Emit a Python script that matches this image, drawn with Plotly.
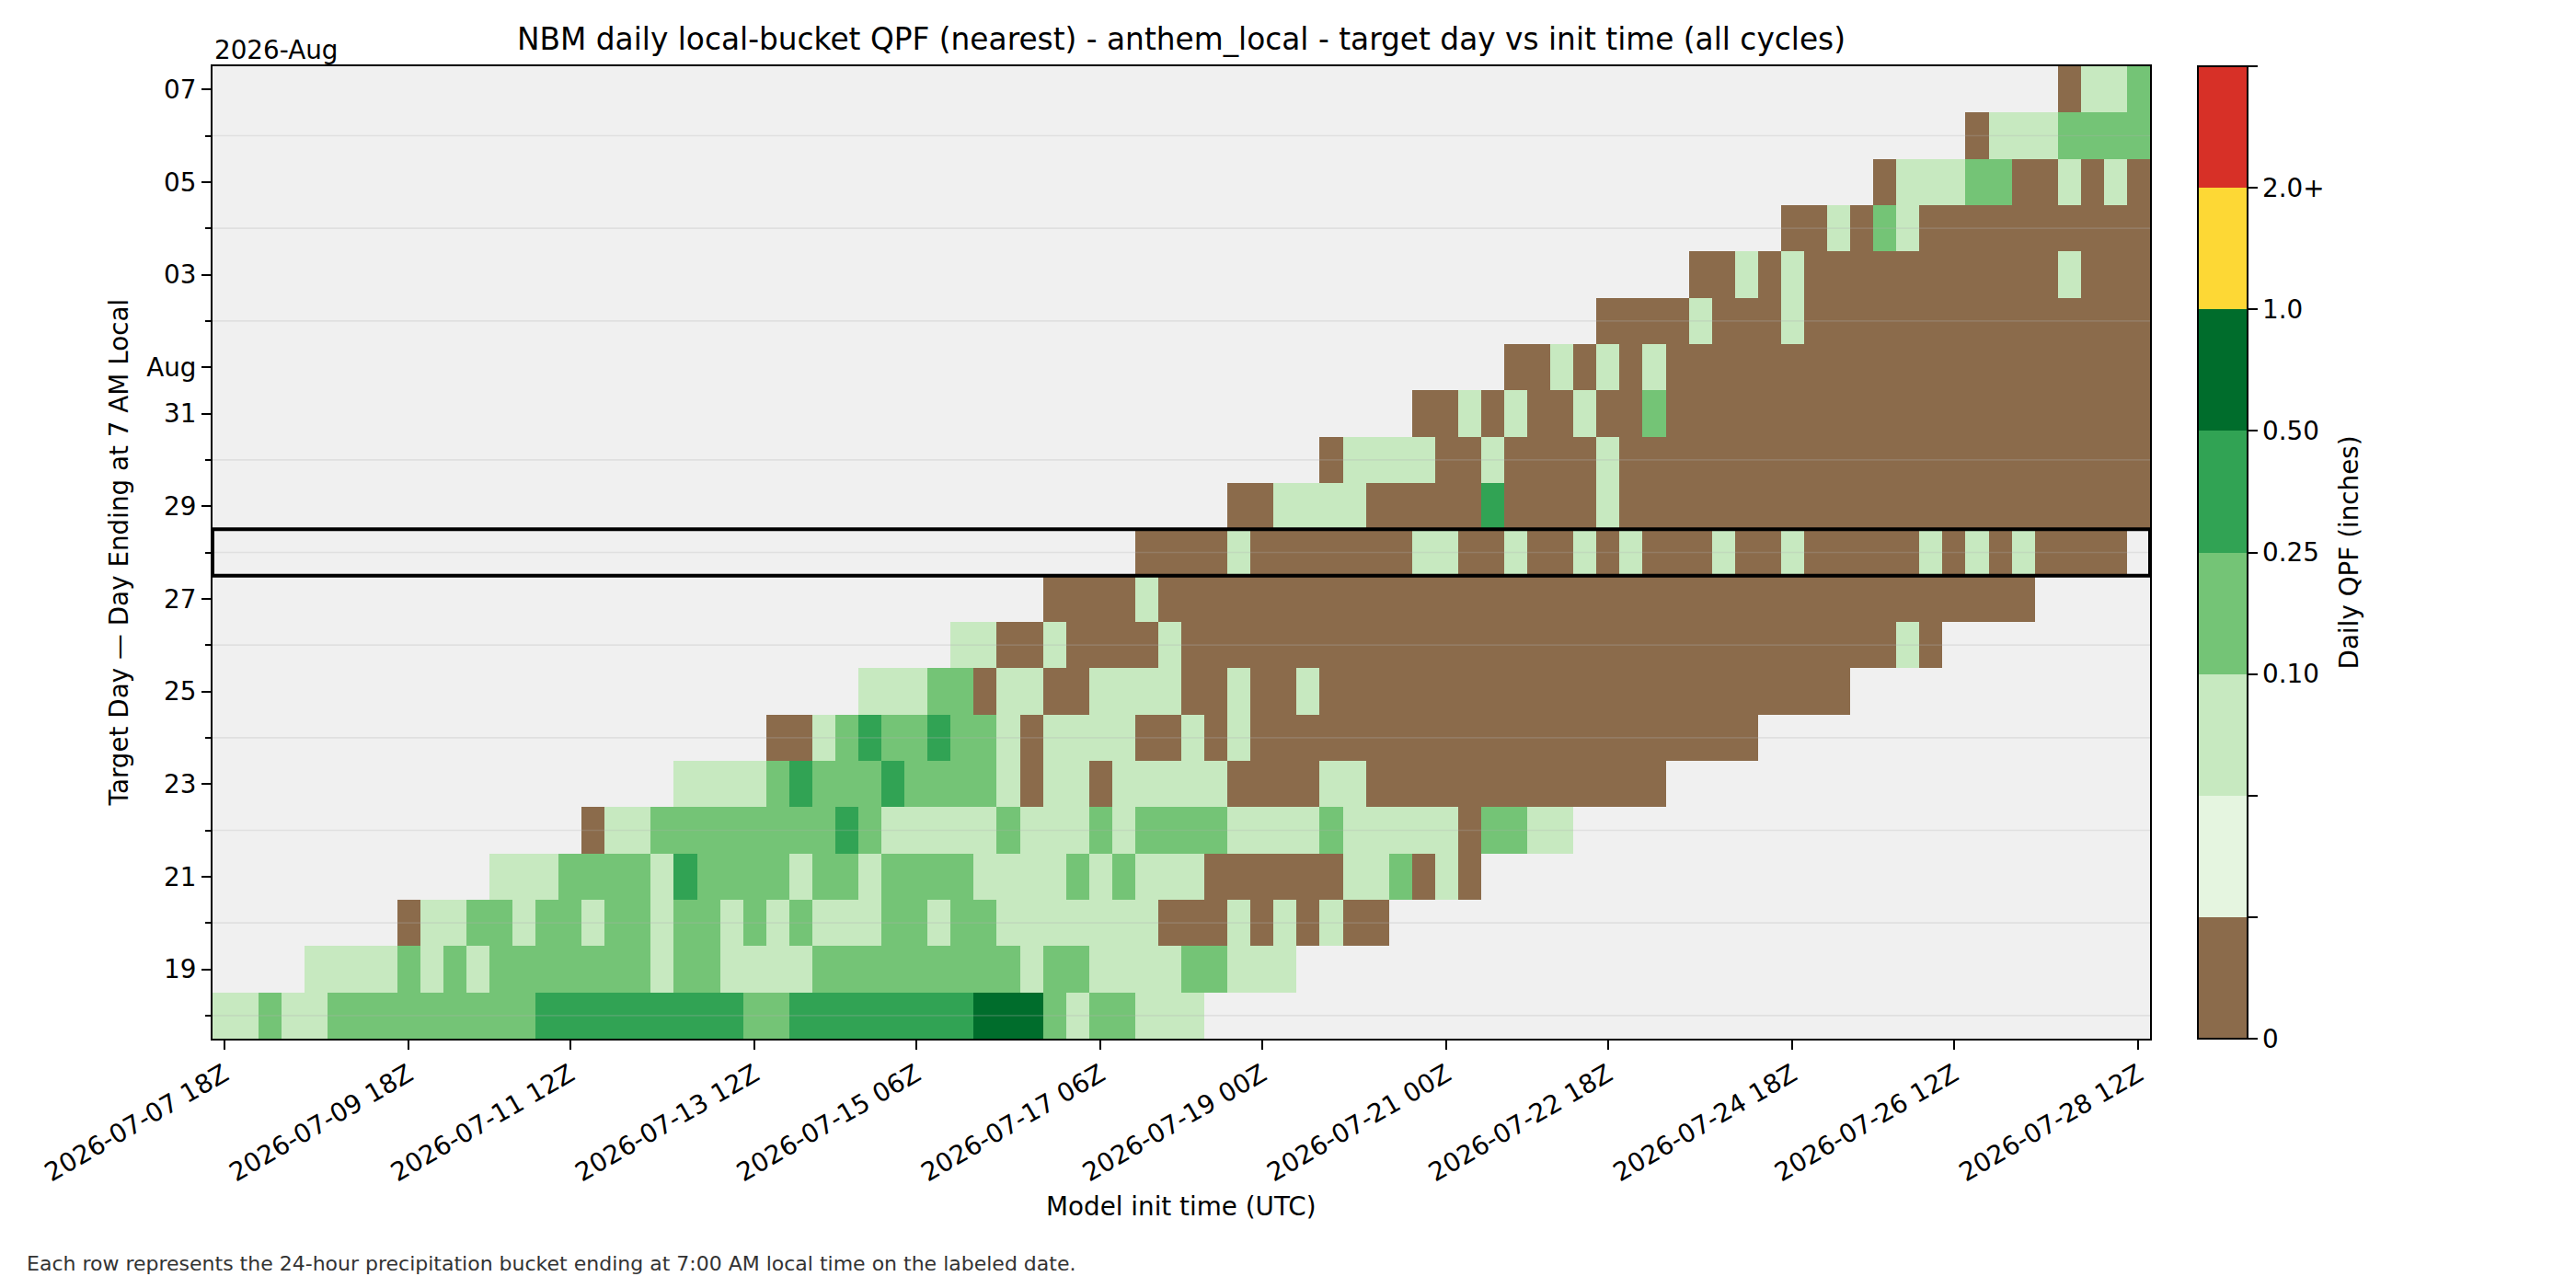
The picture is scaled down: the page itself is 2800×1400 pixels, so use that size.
import pandas as pd
import plotly.graph_objects as go

# ---------------- data ----------------
# Target days (rows, bottom -> top)
target_days = [
    "2026-07-18", "2026-07-19", "2026-07-20", "2026-07-21", "2026-07-22",
    "2026-07-23", "2026-07-24", "2026-07-25", "2026-07-26", "2026-07-27",
    "2026-07-28", "2026-07-29", "2026-07-30", "2026-07-31", "2026-08-01",
    "2026-08-02", "2026-08-03", "2026-08-04", "2026-08-05", "2026-08-06",
    "2026-08-07",
]

# Model init times (columns), every 6 h
init_times = pd.date_range("2026-07-07 18:00", "2026-07-28 12:00", freq="6h")
init_labels = [t.strftime("%Y-%m-%d %HZ") for t in init_times]

x_tick_labels = [
    "2026-07-07 18Z", "2026-07-09 18Z", "2026-07-11 12Z", "2026-07-13 12Z",
    "2026-07-15 06Z", "2026-07-17 06Z", "2026-07-19 00Z", "2026-07-21 00Z",
    "2026-07-22 18Z", "2026-07-24 18Z", "2026-07-26 12Z", "2026-07-28 12Z",
]

y_major_days = ["2026-07-19", "2026-07-21", "2026-07-23", "2026-07-25", "2026-07-27",
                "2026-07-29", "2026-07-31", "2026-08-01", "2026-08-03", "2026-08-05",
                "2026-08-07"]
y_major_text = ["19", "21", "23", "25", "27", "29", "31", "Aug", "03", "05", "07"]

highlight_day = "2026-07-28"

# QPF bin codes: '.' no forecast, '0' = 0, 't' trace, 'p' <0.10, 'l' 0.10-0.25,
# 'm' 0.25-0.50, 'd' 0.50-1.0, 'y' 1.0-2.0, 'r' 2.0+
bin_codes = ["0", "t", "p", "l", "m", "d", "y", "r"]
bin_colors = ["#8b6b4b", "#e5f5e0", "#c7e9c0", "#74c476", "#31a354", "#006d2c",
              "#fdd835", "#d73027"]
bin_edge_labels = ["0", "", "", "0.10", "0.25", "0.50", "1.0", "2.0+", ""]

# one string per target day (bottom row first), one char per init time
qpf_rows = [
    # 07-18
    "pp" + "l" + "pp" + "l" * 9 + "m" * 9 + "ll" + "m" * 8 + "ddd" + "l" + "p" + "ll" + "ppp" + "." * 41,
    # 07-19
    "." * 4 + "pppp" + "l" + "p" + "l" + "p" + "l" * 7 + "p" + "ll" + "pppp" + "l" * 9 + "p" + "ll"
    + "pppp" + "ll" + "ppp" + "." * 37,
    # 07-20
    "." * 8 + "0" + "pp" + "ll" + "p" + "ll" + "p" + "ll" + "p" + "ll" + "p" + "l" + "p" + "l" + "ppp"
    + "ll" + "p" + "ll" + "p" * 7 + "000" + "p" + "0" + "p" + "0" + "p" + "00" + "." * 33,
    # 07-21
    "." * 12 + "ppp" + "llll" + "p" + "m" + "llll" + "p" + "ll" + "p" + "llll" + "pppp" + "l" + "p" + "l"
    + "ppp" + "000000" + "pp" + "l" + "0" + "p" + "0" + "." * 29,
    # 07-22
    "." * 16 + "0" + "pp" + "l" * 8 + "m" + "l" + "p" * 5 + "l" + "ppp" + "l" + "p" + "llll" + "pppp"
    + "l" + "p" * 5 + "0" + "ll" + "pp" + "." * 25,
    # 07-23
    "." * 20 + "pppp" + "l" + "m" + "lll" + "m" + "llll" + "p" + "0" + "pp" + "0" + "p" * 5 + "0000"
    + "pp" + "0" * 13 + "." * 21,
    # 07-24
    "." * 24 + "00" + "p" + "l" + "m" + "ll" + "m" + "ll" + "p" + "0" + "pppp" + "00" + "p" + "0" + "p"
    + "0" * 22 + "." * 17,
    # 07-25
    "." * 28 + "ppp" + "ll" + "0" + "pp" + "00" + "pppp" + "00" + "p" + "00" + "p" + "0" * 23 + "." * 13,
    # 07-26
    "." * 32 + "pp" + "00" + "p" + "0000" + "p" + "0" * 31 + "p" + "0" + "." * 9,
    # 07-27
    "." * 36 + "0000" + "p" + "0" * 38 + "." * 5,
    # 07-28
    "." * 40 + "0000" + "p" + "0" * 7 + "pp" + "00" + "p" + "00" + "p" + "0" + "p" + "000" + "p" + "00"
    + "p" + "0" * 5 + "p" + "0" + "p" + "0" + "p" + "0000" + ".",
    # 07-29
    "." * 44 + "00" + "pppp" + "00000" + "m" + "0000" + "p" + "0" * 23,
    # 07-30
    "." * 48 + "0" + "pppp" + "00" + "p" + "0000" + "p" + "0" * 23,
    # 07-31
    "." * 52 + "00" + "p" + "0" + "p" + "00" + "p" + "00" + "l" + "0" * 21,
    # 08-01
    "." * 56 + "00" + "p" + "0" + "p" + "0" + "p" + "0" * 21,
    # 08-02
    "." * 60 + "0000" + "p" + "000" + "p" + "0" * 15,
    # 08-03
    "." * 64 + "00" + "p" + "0" + "p" + "0" * 11 + "p" + "000",
    # 08-04
    "." * 68 + "00" + "p" + "0" + "l" + "p" + "0" * 10,
    # 08-05
    "." * 72 + "0" + "ppp" + "ll" + "00" + "p" + "0" + "p" + "0",
    # 08-06
    "." * 76 + "0" + "ppp" + "llll",
    # 08-07
    "." * 80 + "0" + "pp" + "l",
]

# ---------------- build ----------------
n_cols = len(init_labels)
for r in qpf_rows:
    assert len(r) == n_cols, (len(r), r)

z = []
for row in qpf_rows:
    z.append([None if ch == "." else bin_codes.index(ch) + 0.5 for ch in row])

nb = len(bin_codes)
colorscale = []
for k, c in enumerate(bin_colors):
    colorscale.append([k / nb, c])
    colorscale.append([(k + 1) / nb, c])

x_idx = list(range(n_cols))
y_idx = list(range(len(target_days)))

FONT = "DejaVu Sans"
FS = 27.8

fig = go.Figure()
fig.add_trace(go.Heatmap(
    x=x_idx, y=y_idx, z=z, zmin=0, zmax=nb,
    colorscale=colorscale, showscale=True,
    hoverongaps=False,
    colorbar=dict(
        x=1.0247, xanchor="left", xref="paper", y=0.5, yanchor="middle",
        len=1.0, lenmode="fraction", thickness=54, ypad=0, xpad=0,
        outlinewidth=2, outlinecolor="black",
        tickmode="array", tickvals=list(range(nb + 1)), ticktext=bin_edge_labels,
        ticks="outside", ticklen=10, tickwidth=2, tickcolor="black",
        tickfont=dict(family=FONT, size=FS, color="black"),
    ),
))

x_tick_vals = [init_labels.index(t) for t in x_tick_labels]
y_major_vals = [target_days.index(d) for d in y_major_days]
y_minor_vals = [i for i in y_idx if i not in y_major_vals]

shapes = []
for v in y_minor_vals:
    shapes.append(dict(type="line", xref="x domain", x0=0, x1=1, yref="y", y0=v, y1=v,
                       line=dict(color="rgba(176,176,176,0.25)", width=1.7), layer="above"))
h = target_days.index(highlight_day)
shapes.append(dict(type="rect", xref="x domain", x0=0, x1=1, yref="y", y0=h - 0.5, y1=h + 0.5,
                   line=dict(color="black", width=4), fillcolor="rgba(0,0,0,0)", layer="above"))

fig.update_layout(
    width=2800, height=1400,
    margin=dict(l=231, r=463, t=72, b=271, autoexpand=False),
    paper_bgcolor="white", plot_bgcolor="#f0f0f0",
    font=dict(family=FONT, size=FS, color="black"),
    title=dict(text="NBM daily local-bucket QPF (nearest) - anthem_local - target day vs init time (all cycles)",
               x=0.5, xref="paper", xanchor="center", y=1 - 43 / 1400, yref="container",
               yanchor="middle", font=dict(family=FONT, size=32.8, color="black")),
    xaxis=dict(range=[-0.5, n_cols - 0.5], tickmode="array", tickvals=x_tick_vals,
               ticktext=x_tick_labels, tickangle=-30, ticks="outside", ticklen=10,
               tickwidth=2, tickcolor="black", showgrid=False, zeroline=False,
               showline=True, mirror=True, linecolor="black", linewidth=2,
               tickfont=dict(family=FONT, size=FS, color="black")),
    yaxis=dict(range=[-0.5, len(target_days) - 0.5], tickmode="array", tickvals=y_major_vals,
               ticktext=y_major_text, ticks="outside", ticklen=10, tickwidth=2,
               tickcolor="black", showgrid=False, zeroline=False,
               showline=True, mirror=True, linecolor="black", linewidth=2,
               tickfont=dict(family=FONT, size=FS, color="black"),
               minor=dict(tickmode="array", tickvals=y_minor_vals, ticks="outside",
                          ticklen=6, tickwidth=2, tickcolor="black", showgrid=False)),
    shapes=shapes,
    annotations=[
        dict(text="Model init time (UTC)", xref="paper", yref="paper", x=0.5, y=(1129 - 1311) / 1057,
             xanchor="center", yanchor="middle", showarrow=False,
             font=dict(family=FONT, size=FS, color="black")),
        dict(text="Target Day — Day Ending at 7 AM Local", xref="paper", yref="paper",
             x=(129 - 231) / 2106, y=0.5, xanchor="center", yanchor="middle", textangle=-90,
             showarrow=False, font=dict(family=FONT, size=FS, color="black")),
        dict(text="Daily QPF (inches)", xref="paper", yref="paper",
             x=(2553 - 231) / 2106, y=0.5, xanchor="center", yanchor="middle", textangle=-90,
             showarrow=False, font=dict(family=FONT, size=FS, color="black")),
        dict(text="2026-Aug", xref="paper", yref="paper", x=0, y=1 + (72 - 54) / 1057,
             xanchor="left", yanchor="middle", showarrow=False,
             font=dict(family=FONT, size=FS, color="black")),
        dict(text="Each row represents the 24-hour precipitation bucket ending at 7:00 AM local time on the labeled date.",
             xref="paper", yref="paper", x=(27 - 231) / 2106, y=(1129 - 1373) / 1057,
             xanchor="left", yanchor="middle", showarrow=False,
             font=dict(family=FONT, size=22, color="#333333")),
    ],
)

fig.write_html("out.html")
